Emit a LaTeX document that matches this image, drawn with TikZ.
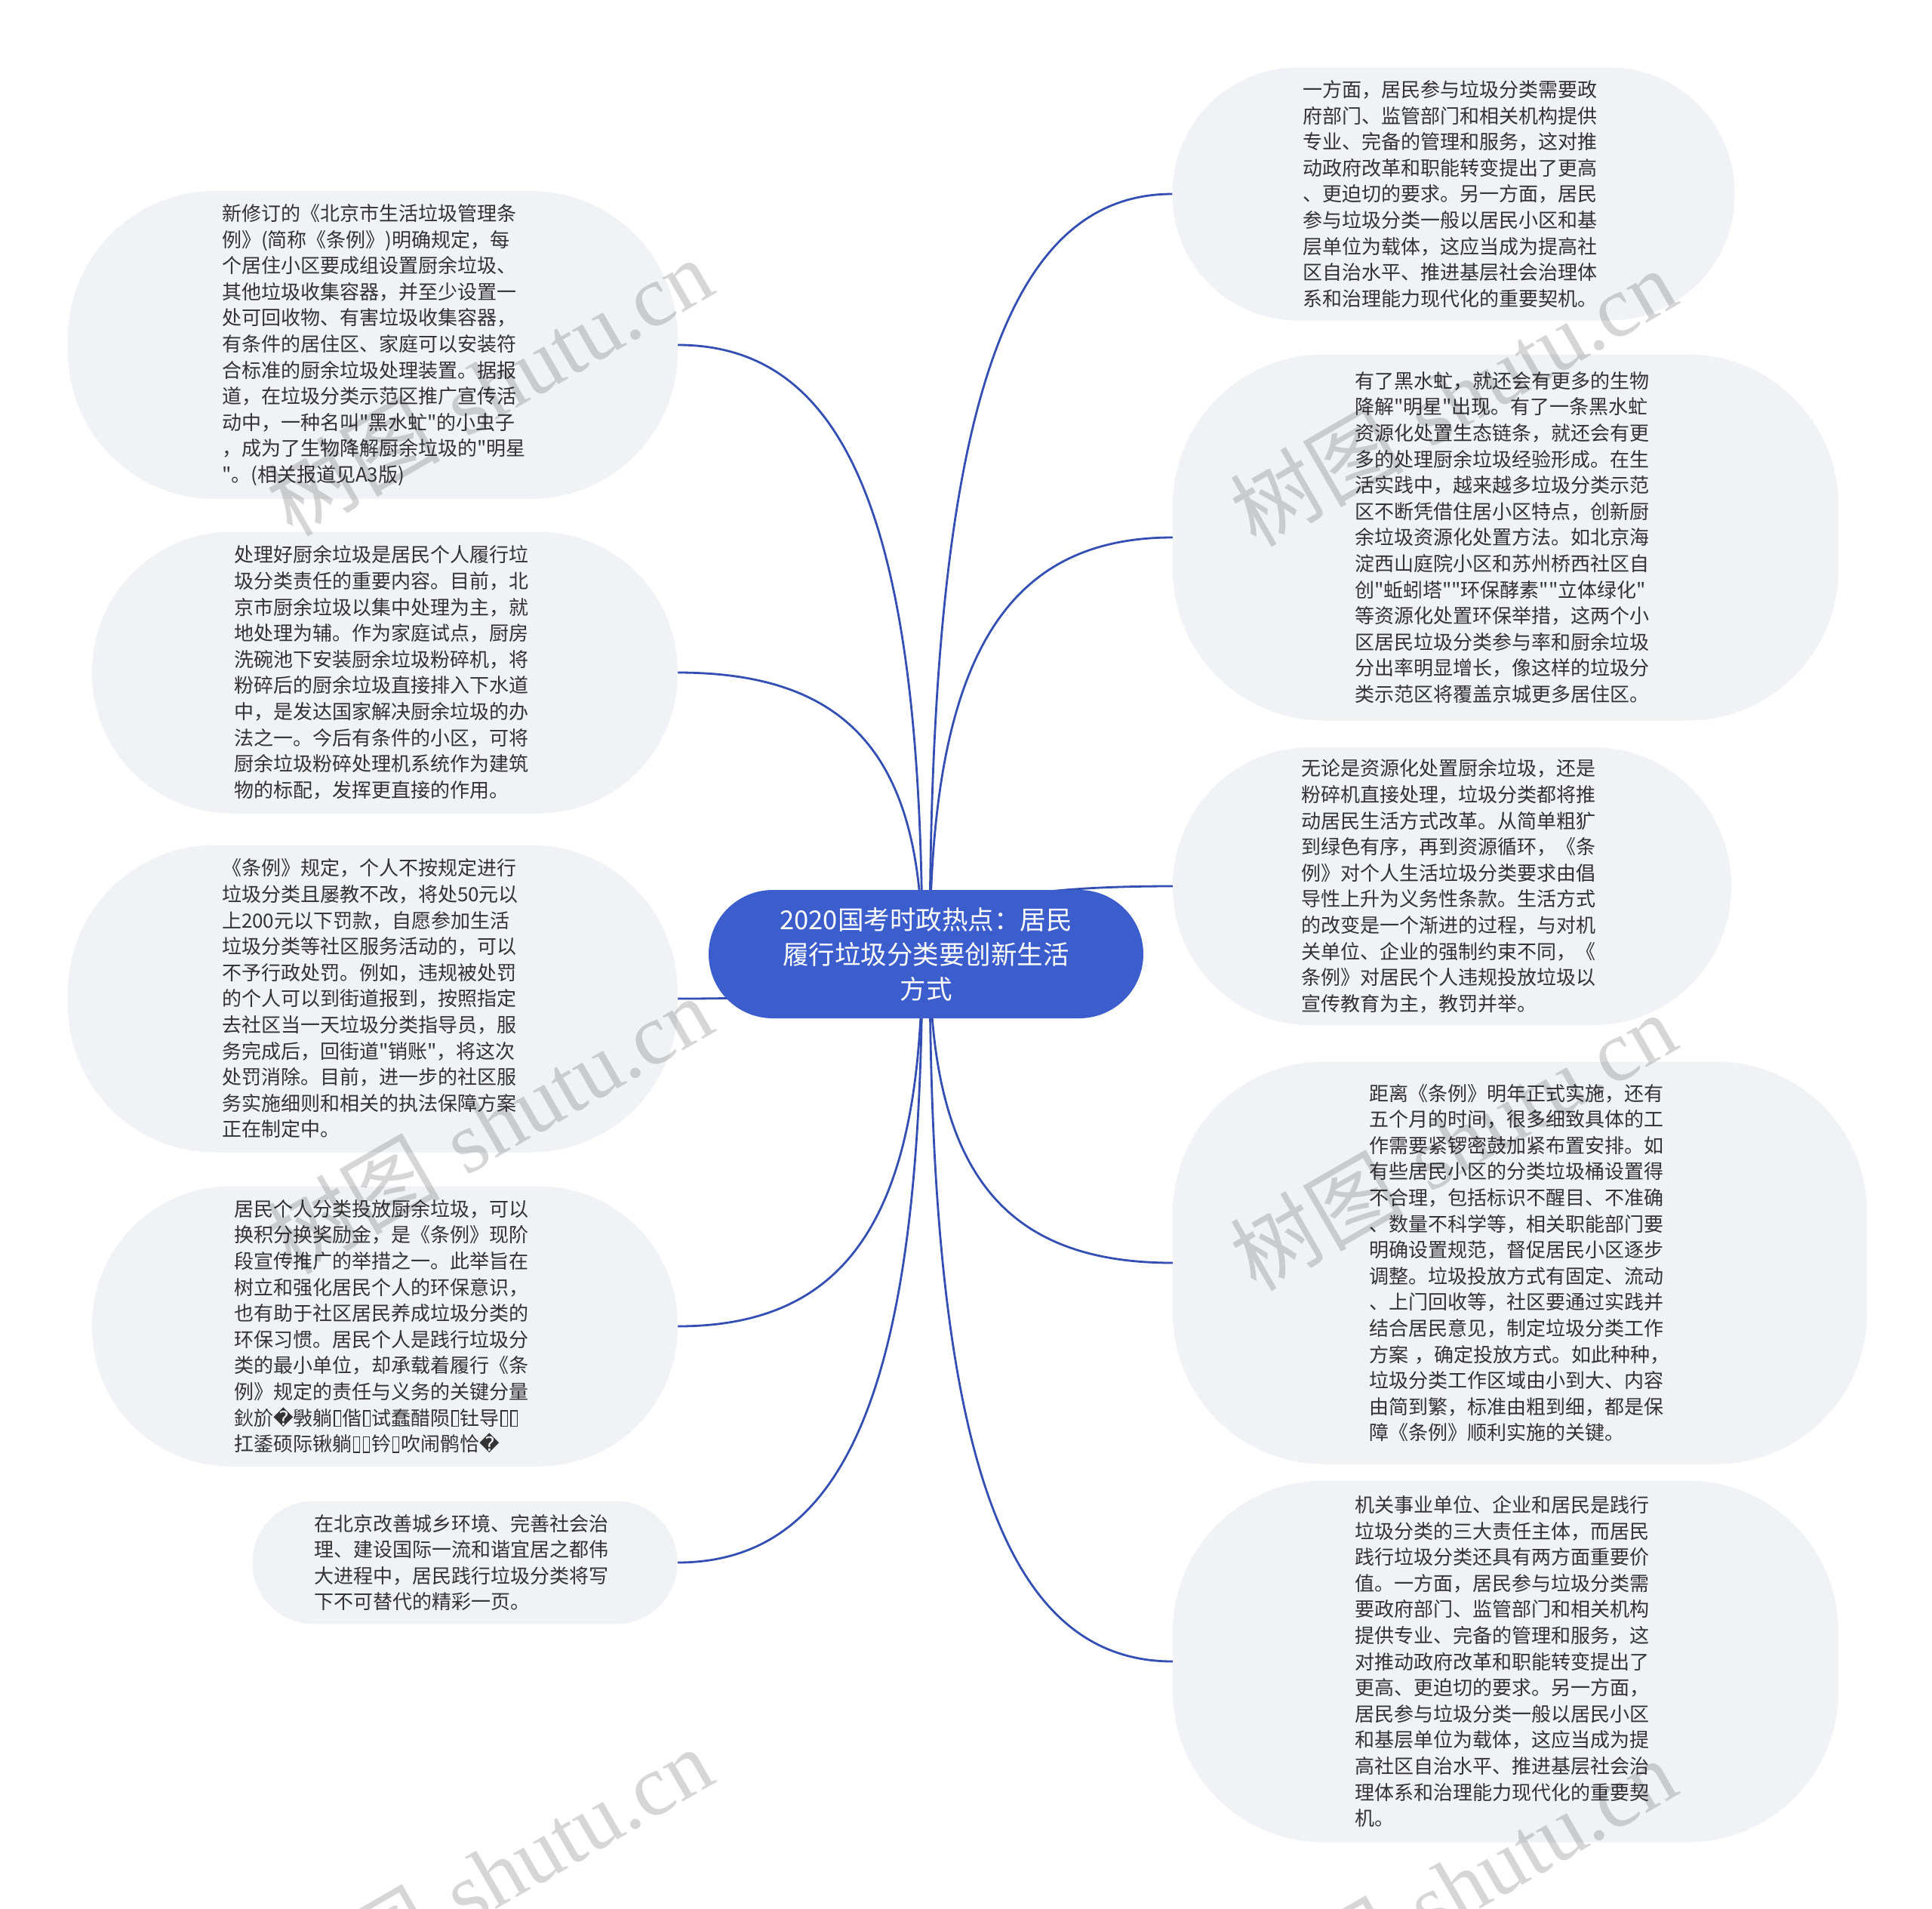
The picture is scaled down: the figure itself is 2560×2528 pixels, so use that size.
\documentclass[tikz,border=0pt]{standalone}
\usepackage{fontspec}
\newfontfamily\cjk{Noto Sans CJK SC}
\newfontfamily\dejavu{DejaVu Sans}
\newfontfamily\wmserif{Liberation Serif}
\usetikzlibrary{calc,backgrounds}
\definecolor{leafbg}{RGB}{240,242,245}
\definecolor{rootbg}{RGB}{60,94,204}
\definecolor{linkc}{RGB}{52,79,179}
\definecolor{txt}{RGB}{51,51,51}
\newcommand\mybx{\kern0.06em\raisebox{-0.02em}{\setlength{\fboxsep}{0pt}\setlength{\fboxrule}{0.06em}\fbox{\rule{0pt}{0.72em}\rule{0.26em}{0pt}}}\kern0.06em}
\newcommand\myrep{{\dejavu\symbol{"FFFD}}}
\begin{document}
\begin{tikzpicture}[x=1pt,y=-1pt,
  leaf/.style={rectangle, fill=leafbg, text=txt, align=left, text width=400pt, inner sep=0pt,
    font=\cjk\fontsize{26pt}{34.6pt}\selectfont},
  root/.style={rectangle, fill=rootbg, text=white, align=center, inner sep=0pt, rounded corners=85pt,
    minimum width=576pt, minimum height=170pt, font=\cjk\fontsize{34.5pt}{46pt}\selectfont},
  conn/.style={draw=linkc, line width=2.8pt},
  wm/.style={text=black, text opacity=0.16, rotate=30, inner sep=0pt,
    font=\fontsize{115pt}{115pt}\selectfont}
]
\useasboundingbox (0,0) rectangle (2560,2528);

\node[root] (C) at (1227,1264) {2020国考时政热点：居民\\履行垃圾分类要创新生活\\方式};
\coordinate (cL) at (1222,1264);
\coordinate (cR) at (1232,1264);

\node[leaf, minimum width=808pt, minimum height=408pt, rounded corners=195pt] (L1) at (494,457) {新修订的《北京市生活垃圾管理条\\例》(简称《条例》)明确规定，每\\个居住小区要成组设置厨余垃圾、\\其他垃圾收集容器，并至少设置一\\处可回收物、有害垃圾收集容器，\\有条件的居住区、家庭可以安装符\\合标准的厨余垃圾处理装置。据报\\道，在垃圾分类示范区推广宣传活\\动中，一种名叫"黑水虻"的小虫子\\，成为了生物降解厨余垃圾的"明星\\"。(相关报道见A3版)};

\node[leaf, minimum width=776pt, minimum height=373pt, rounded corners=185pt] (L2) at (510,891) {处理好厨余垃圾是居民个人履行垃\\圾分类责任的重要内容。目前，北\\京市厨余垃圾以集中处理为主，就\\地处理为辅。作为家庭试点，厨房\\洗碗池下安装厨余垃圾粉碎机，将\\粉碎后的厨余垃圾直接排入下水道\\中，是发达国家解决厨余垃圾的办\\法之一。今后有条件的小区，可将\\厨余垃圾粉碎处理机系统作为建筑\\物的标配，发挥更直接的作用。};

\node[leaf, minimum width=808pt, minimum height=407pt, rounded corners=195pt] (L3) at (494,1323) {《条例》规定，个人不按规定进行\\垃圾分类且屡教不改，将处50元以\\上200元以下罚款，自愿参加生活\\垃圾分类等社区服务活动的，可以\\不予行政处罚。例如，违规被处罚\\的个人可以到街道报到，按照指定\\去社区当一天垃圾分类指导员，服\\务完成后，回街道"销账"，将这次\\处罚消除。目前，进一步的社区服\\务实施细则和相关的执法保障方案\\正在制定中。};

\node[leaf, minimum width=776pt, minimum height=371pt, rounded corners=184pt] (L4) at (510,1757) {居民个人分类投放厨余垃圾，可以\\换积分换奖励金，是《条例》现阶\\段宣传推广的举措之一。此举旨在\\树立和强化居民个人的环保意识，\\也有助于社区居民养成垃圾分类的\\环保习惯。居民个人是践行垃圾分\\类的最小单位，却承载着履行《条\\例》规定的责任与义务的关键分量\\鈥斺\myrep 斅躺\mybx 偕\mybx 试蠢醋陨\mybx 钍导\mybx\mybx\\扛鋈硕际锹躺\mybx\mybx 钤\mybx 吹闹鹘恰\myrep};

\node[leaf, minimum width=563pt, minimum height=163pt, rounded corners=81pt] (L5) at (616,2070) {在北京改善城乡环境、完善社会治\\理、建设国际一流和谐宜居之都伟\\大进程中，居民践行垃圾分类将写\\下不可替代的精彩一页。};

\node[leaf, minimum width=745pt, minimum height=335pt, rounded corners=166pt] (R1) at (1926,257) {一方面，居民参与垃圾分类需要政\\府部门、监管部门和相关机构提供\\专业、完备的管理和服务，这对推\\动政府改革和职能转变提出了更高\\、更迫切的要求。另一方面，居民\\参与垃圾分类一般以居民小区和基\\层单位为载体，这应当成为提高社\\区自治水平、推进基层社会治理体\\系和治理能力现代化的重要契机。};

\node[leaf, minimum width=882pt, minimum height=485pt, rounded corners=200pt] (R2) at (1995,712) {有了黑水虻，就还会有更多的生物\\降解"明星"出现。有了一条黑水虻\\资源化处置生态链条，就还会有更\\多的处理厨余垃圾经验形成。在生\\活实践中，越来越多垃圾分类示范\\区不断凭借住居小区特点，创新厨\\余垃圾资源化处置方法。如北京海\\淀西山庭院小区和苏州桥西社区自\\创"蚯蚓塔""环保酵素""立体绿化"\\等资源化处置环保举措，这两个小\\区居民垃圾分类参与率和厨余垃圾\\分出率明显增长，像这样的垃圾分\\类示范区将覆盖京城更多居住区。};

\node[leaf, minimum width=740pt, minimum height=368pt, rounded corners=183pt] (R3) at (1924,1174) {无论是资源化处置厨余垃圾，还是\\粉碎机直接处理，垃圾分类都将推\\动居民生活方式改革。从简单粗犷\\到绿色有序，再到资源循环，《条\\例》对个人生活垃圾分类要求由倡\\导性上升为义务性条款。生活方式\\的改变是一个渐进的过程，与对机\\关单位、企业的强制约束不同，《\\条例》对居民个人违规投放垃圾以\\宣传教育为主，教罚并举。};

\node[leaf, minimum width=920pt, minimum height=533pt, rounded corners=200pt] (R4) at (2014,1673) {距离《条例》明年正式实施，还有\\五个月的时间，很多细致具体的工\\作需要紧锣密鼓加紧布置安排。如\\有些居民小区的分类垃圾桶设置得\\不合理，包括标识不醒目、不准确\\、数量不科学等，相关职能部门要\\明确设置规范，督促居民小区逐步\\调整。垃圾投放方式有固定、流动\\、上门回收等，社区要通过实践并\\结合居民意见，制定垃圾分类工作\\方案 ，确定投放方式。如此种种，\\垃圾分类工作区域由小到大、内容\\由简到繁，标准由粗到细，都是保\\障《条例》顺利实施的关键。};

\node[leaf, minimum width=882pt, minimum height=479pt, rounded corners=200pt] (R5) at (1995,2201) {机关事业单位、企业和居民是践行\\垃圾分类的三大责任主体，而居民\\践行垃圾分类还具有两方面重要价\\值。一方面，居民参与垃圾分类需\\要政府部门、监管部门和相关机构\\提供专业、完备的管理和服务，这\\对推动政府改革和职能转变提出了\\更高、更迫切的要求。另一方面，\\居民参与垃圾分类一般以居民小区\\和基层单位为载体，这应当成为提\\高社区自治水平、推进基层社会治\\理体系和治理能力现代化的重要契\\机。};

\begin{scope}[on background layer]
  \fill[white] (0,0) rectangle (2560,2528);
  \foreach \n in {L1,L2,L3,L4,L5}
    \draw[conn] (cL) .. controls ($(cL)!0.7!(cL |- \n.east)$) and ($(\n.east)!0.7!(cL |- \n.east)$) .. (\n.east);
  \foreach \n in {R1,R2,R3,R4,R5}
    \draw[conn] (cR) .. controls ($(cR)!0.7!(cR |- \n.west)$) and ($(\n.west)!0.7!(cR |- \n.west)$) .. (\n.west);
\end{scope}

\node[wm] (wm1) at (648,512) {{\cjk 树图} {\wmserif shutu.cn}};
\node[wm] (wm2) at (1925,526) {{\cjk 树图} {\wmserif shutu.cn}};
\node[wm] (wm3) at (648,1490) {{\cjk 树图} {\wmserif shutu.cn}};
\node[wm] (wm4) at (1925,1512) {{\cjk 树图} {\wmserif shutu.cn}};
\node[wm] (wm5) at (648,2485) {{\cjk 树图} {\wmserif shutu.cn}};
\node[wm] (wm6) at (1925,2500) {{\cjk 树图} {\wmserif shutu.cn}};
\end{tikzpicture}
\end{document}
